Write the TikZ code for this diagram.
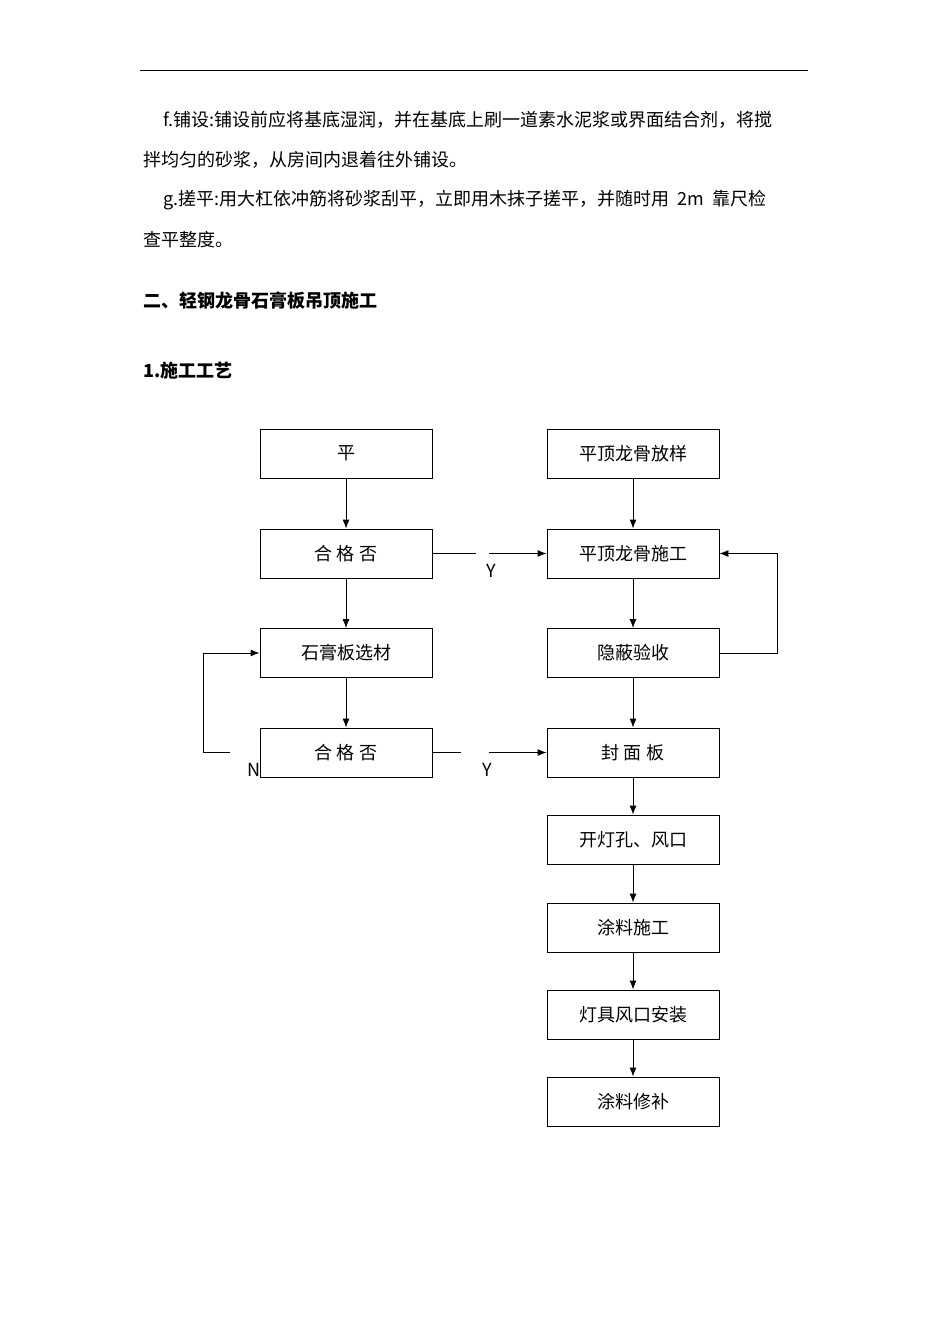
\documentclass[tikz,border=0pt]{standalone}
\usepackage{fontspec}
\setmainfont{Noto Sans CJK SC}
\usetikzlibrary{arrows.meta}
\begin{document}
\begin{tikzpicture}[x=1pt,y=-1pt,
  box/.style={draw,line width=0.9pt,minimum width=172pt,minimum height=49pt,inner sep=0pt,font=\fontsize{18}{18}\selectfont},
  arr/.style={line width=0.9pt,-{Latex[length=9pt,width=7pt]}},
  ln/.style={line width=0.9pt},
  txt/.style={anchor=west,inner sep=0pt,font=\fontsize{18}{18}\selectfont}]
\useasboundingbox (0,0) rectangle (950,1344);
\draw[line width=0.8pt] (140,70) -- (808,70);
\node[txt] (t1) at (163,120) {f.铺设:铺设前应将基底湿润，并在基底上刷一道素水泥浆或界面结合剂，将搅};
\node[txt] (t2) at (143,160) {拌均匀的砂浆，从房间内退着往外铺设。};
\node[txt] (t3) at (163,200) {g.搓平:用大杠依冲筋将砂浆刮平，立即用木抹子搓平，并随时用 \ 2m \ 靠尺检};
\node[txt] (t4) at (143,240) {查平整度。};
\node[txt,font=\fontsize{18}{18}\selectfont\bfseries] (h1) at (143,301) {二、轻钢龙骨石膏板吊顶施工};
\node[txt,font=\fontsize{18}{18}\selectfont\bfseries] (h2) at (143,371) {1.施工工艺};
\node[box] (L1) at (346,453.5) {平};
\node[box] (L2) at (346,553.5) {合\ 格\ 否};
\node[box] (L3) at (346,653) {石膏板选材};
\node[box] (L4) at (346,752.5) {合\ 格\ 否};
\node[box] (R1) at (633,453.5) {平顶龙骨放样};
\node[box] (R2) at (633,553.5) {平顶龙骨施工};
\node[box] (R3) at (633,653) {隐蔽验收};
\node[box] (R4) at (633,752.5) {封\ 面\ 板};
\node[box] (R5) at (633,839.5) {开灯孔、风口};
\node[box] (R6) at (633,927.5) {涂料施工};
\node[box] (R7) at (633,1014.5) {灯具风口安装};
\node[box] (R8) at (633,1101.5) {涂料修补};
\foreach \a/\b in {L1/L2,L2/L3,L3/L4,R1/R2,R2/R3,R3/R4,R4/R5,R5/R6,R6/R7,R7/R8}
  \draw[arr] (\a.south) -- (\b.north);
\coordinate (g1a) at (476,553.5); \coordinate (g1b) at (489,553.5);
\draw[ln] (L2.east) -- (g1a);
\draw[arr] (g1b) -- (R2.west);
\coordinate (g2a) at (461,752.5); \coordinate (g2b) at (489,752.5);
\draw[ln] (L4.east) -- (g2a);
\draw[arr] (g2b) -- (R4.west);
\coordinate (fb) at (777,653);
\draw[arr] (R3.east) -- (fb) |- (R2.east);
\coordinate (nl) at (230,752.5); \coordinate (nc) at (203,752.5);
\draw[arr] (nl) -- (nc) |- (L3.west);
\node[font=\fontsize{18}{18}\selectfont] (y1) at (491,571) {Y};
\node[font=\fontsize{18}{18}\selectfont] (y2) at (487,770) {Y};
\node[font=\fontsize{18}{18}\selectfont] (n1) at (254,770) {N};
\end{tikzpicture}
\end{document}
